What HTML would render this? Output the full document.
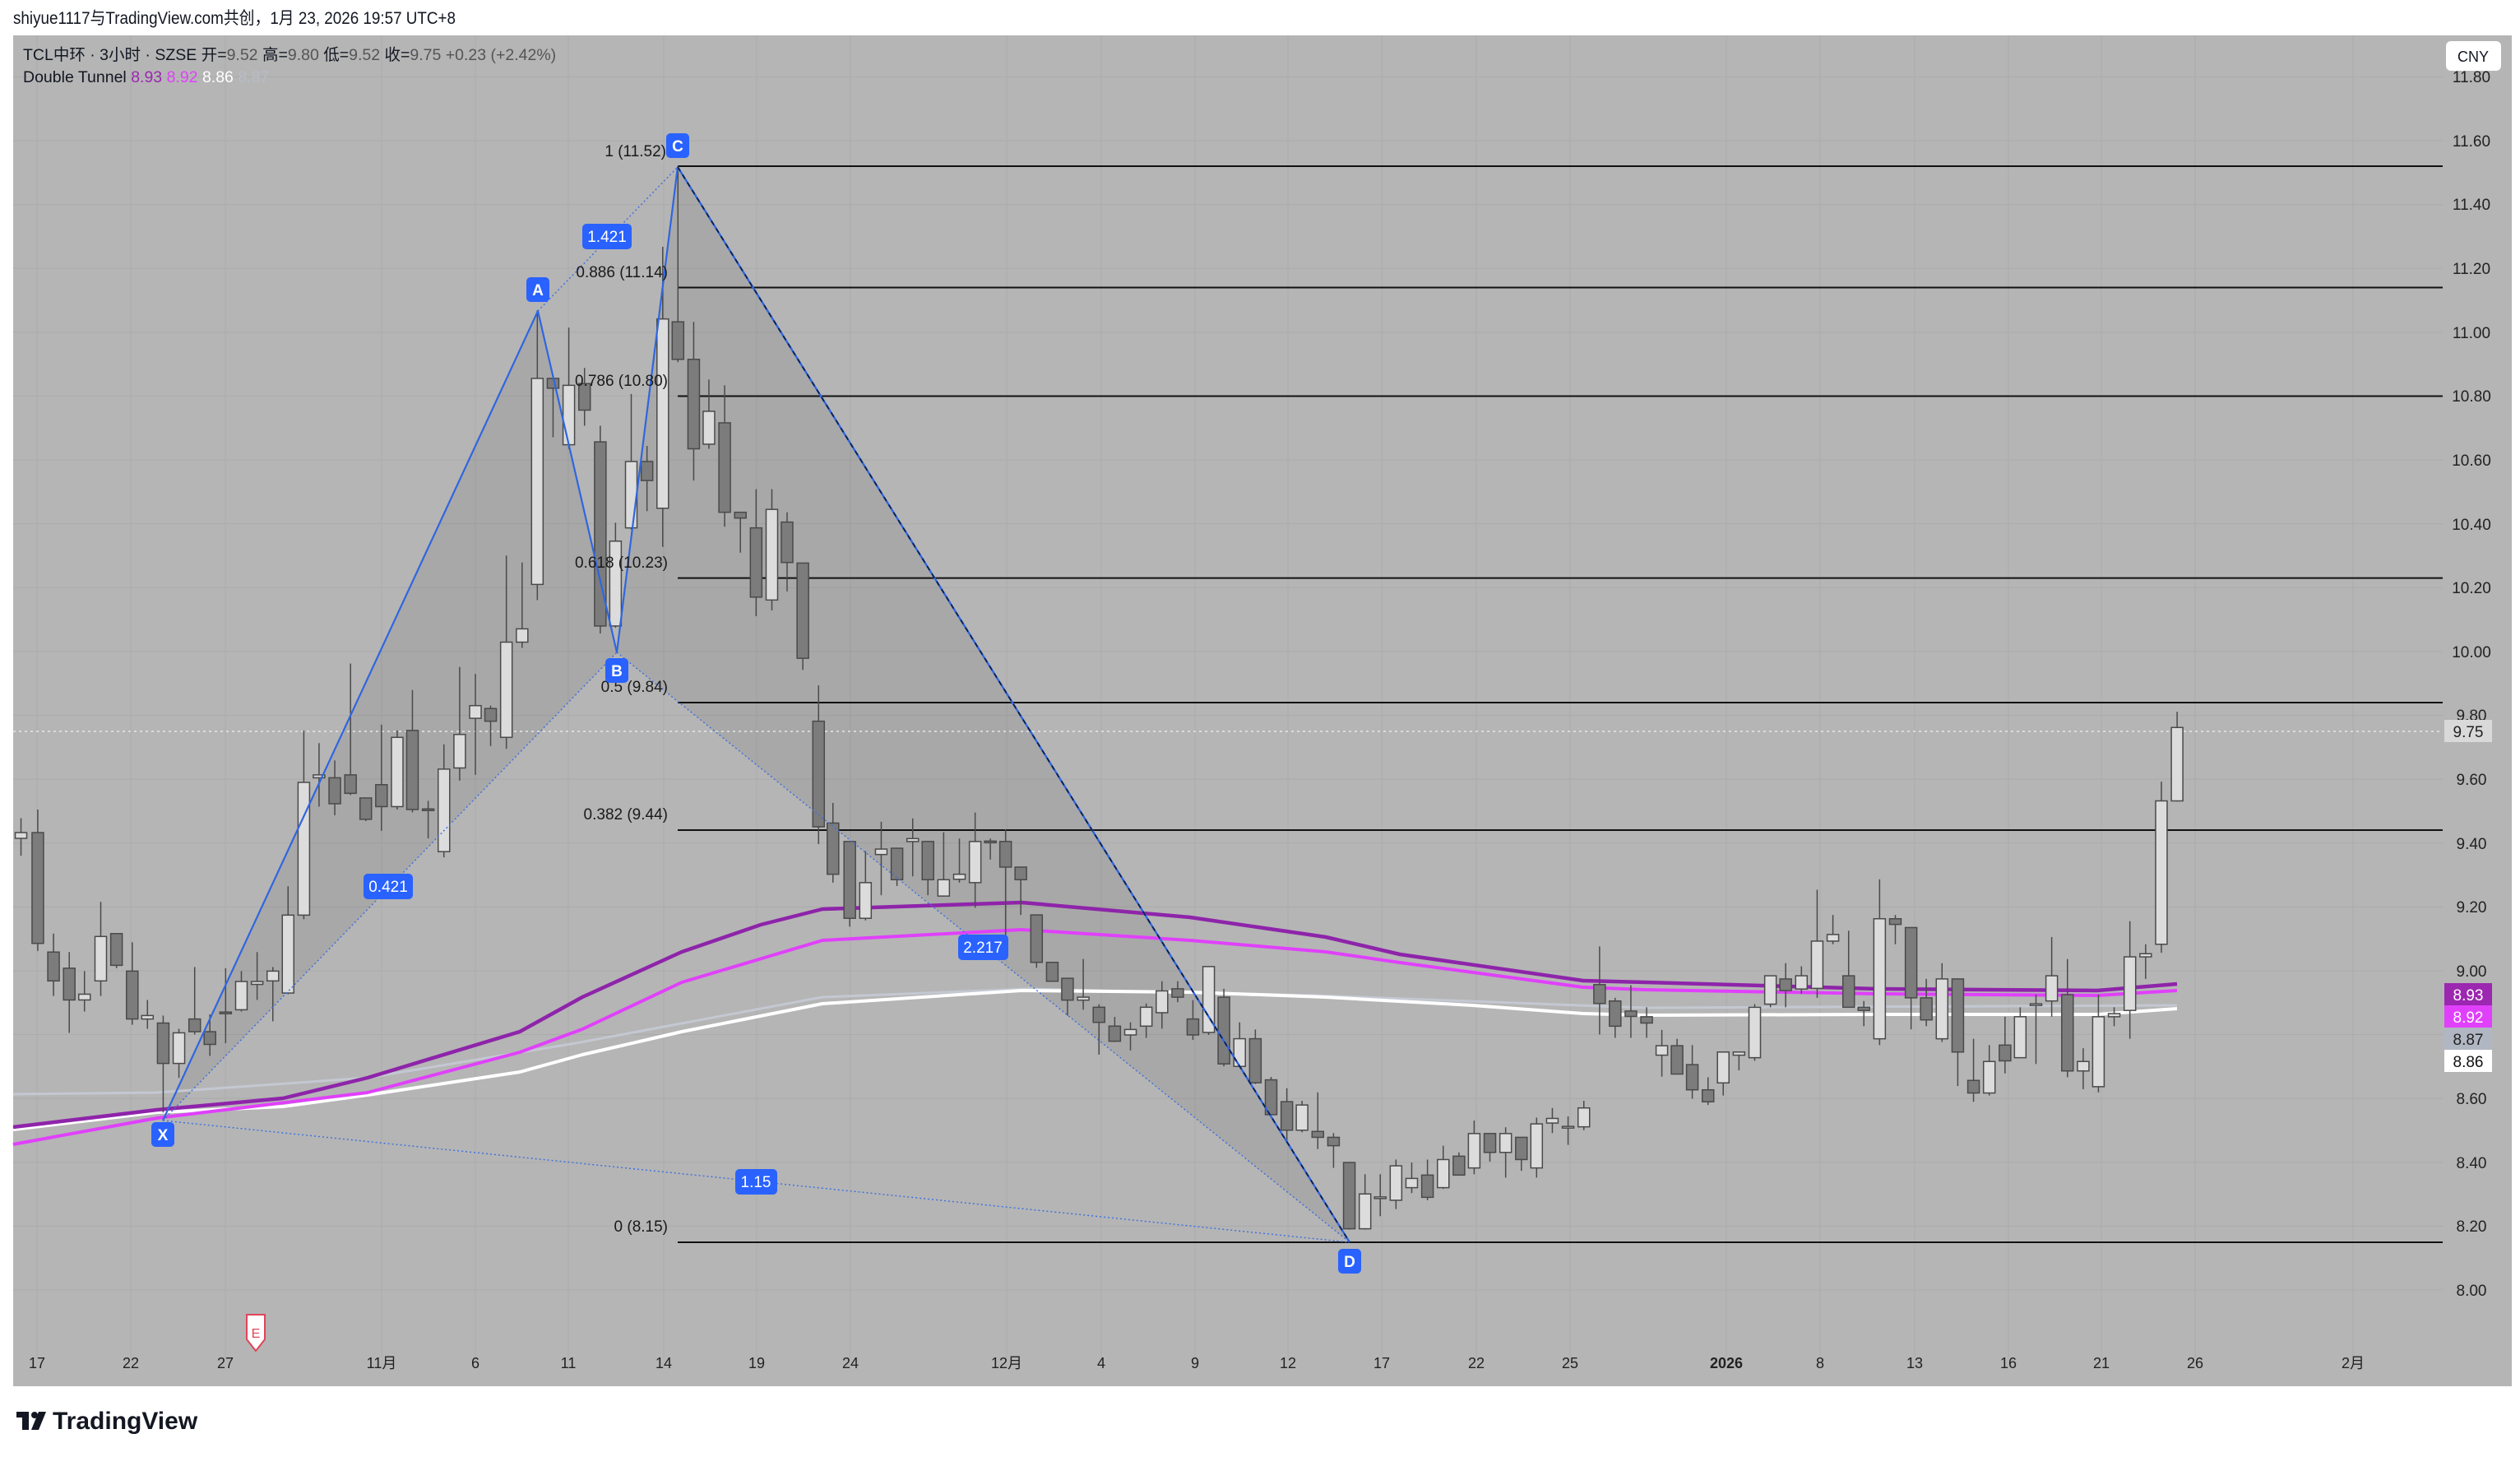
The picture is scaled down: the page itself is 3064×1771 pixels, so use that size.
<!DOCTYPE html>
<html><head><meta charset="utf-8"><style>
html,body{margin:0;padding:0;background:#fff;width:3064px;height:1771px;overflow:hidden}
svg{display:block}
text{font-family:"Liberation Sans","Noto Sans CJK SC",sans-serif}
</style></head><body>
<svg id="s" width="3064" height="1771" viewBox="0 0 3064 1771" xmlns="http://www.w3.org/2000/svg">
<rect x="0" y="0" width="3064" height="1771" fill="#ffffff"/>
<text x="16" y="29" font-size="21" fill="#131722" textLength="538" lengthAdjust="spacingAndGlyphs">shiyue1117与TradingView.com共创，1月 23, 2026 19:57 UTC+8</text>
<rect x="16" y="43" width="3038" height="1642" fill="#b5b5b5"/>
<g id="grid" stroke="#ababab" stroke-width="1"></g>
<g id="shade"></g>
<g id="fib" stroke="#111" stroke-width="2"></g>
<line x1="16" y1="889" x2="2970" y2="889" stroke="#e8e8e8" stroke-width="1.5" stroke-dasharray="3,4"/>
<g id="ma" fill="none"></g>
<g id="candles"></g>
<g id="pat"></g>
<g font-size="19" fill="#1a1a1a" text-anchor="end">
<text x="810" y="190">1 (11.52)</text>
<text x="812" y="337">0.886 (11.14)</text>
<text x="812" y="469">0.786 (10.80)</text>
<text x="812" y="690">0.618 (10.23)</text>
<text x="812" y="841">0.5 (9.84)</text>
<text x="812" y="996">0.382 (9.44)</text>
<text x="812" y="1497">0 (8.15)</text>
</g>
<g font-size="19" fill="#fff" text-anchor="middle" font-weight="bold">
<rect x="184" y="1364" width="28" height="30" rx="5" fill="#2962ff"/><text x="198" y="1386">X</text>
<rect x="640" y="337" width="28" height="30" rx="5" fill="#2962ff"/><text x="654" y="359">A</text>
<rect x="736" y="800" width="28" height="30" rx="5" fill="#2962ff"/><text x="750" y="822">B</text>
<rect x="810" y="162" width="28" height="30" rx="5" fill="#2962ff"/><text x="824" y="184">C</text>
<rect x="1627" y="1518" width="28" height="30" rx="5" fill="#2962ff"/><text x="1641" y="1540">D</text>
</g>
<g font-size="19" fill="#fff" text-anchor="middle">
<rect x="708" y="272" width="60" height="31" rx="5" fill="#2962ff"/><text x="738" y="294">1.421</text>
<rect x="442" y="1062" width="60" height="31" rx="5" fill="#2962ff"/><text x="472" y="1084">0.421</text>
<rect x="1165" y="1136" width="61" height="31" rx="5" fill="#2962ff"/><text x="1195" y="1158">2.217</text>
<rect x="894" y="1421" width="51" height="31" rx="5" fill="#2962ff"/><text x="919" y="1443">1.15</text>
</g>
<text x="28" y="73" font-size="19.5" fill="#131722">TCL中环 · 3小时 · SZSE  开=<tspan fill="#555">9.52</tspan>  高=<tspan fill="#555">9.80</tspan>  低=<tspan fill="#555">9.52</tspan>  收=<tspan fill="#555">9.75</tspan>  <tspan fill="#555">+0.23 (+2.42%)</tspan></text>
<text x="28" y="100" font-size="19.5" fill="#131722">Double Tunnel  <tspan fill="#9c27b0">8.93</tspan>  <tspan fill="#e040fb">8.92</tspan>  <tspan fill="#ffffff">8.86</tspan>  <tspan fill="#b8bcc6">8.87</tspan></text>
<g font-size="19" fill="#222" text-anchor="middle">
<text x="3005" y="100">11.80</text>
<text x="3005" y="178">11.60</text><text x="3005" y="255">11.40</text><text x="3005" y="333">11.20</text>
<text x="3005" y="411">11.00</text><text x="3005" y="488">10.80</text><text x="3005" y="566">10.60</text>
<text x="3005" y="644">10.40</text><text x="3005" y="721">10.20</text><text x="3005" y="799">10.00</text>
<text x="3005" y="876">9.80</text><text x="3005" y="954">9.60</text><text x="3005" y="1032">9.40</text>
<text x="3005" y="1109">9.20</text><text x="3005" y="1187">9.00</text><text x="3005" y="1342">8.60</text>
<text x="3005" y="1420">8.40</text><text x="3005" y="1497">8.20</text><text x="3005" y="1575">8.00</text>
</g>
<rect x="2974" y="50" width="67" height="36" rx="6" fill="#fff"/>
<text x="3007" y="75" font-size="18" fill="#131722" text-anchor="middle">CNY</text>
<g font-size="19" text-anchor="middle">
<rect x="2972" y="875" width="58" height="27" fill="#d9d9d9"/><text x="3001" y="896" fill="#222">9.75</text>
<rect x="2972" y="1195" width="58" height="27" fill="#9c27b0"/><text x="3001" y="1216" fill="#fff">8.93</text>
<rect x="2972" y="1222" width="58" height="27" fill="#e040fb"/><text x="3001" y="1243" fill="#fff">8.92</text>
<rect x="2972" y="1249" width="58" height="27" fill="#b0b6c2"/><text x="3001" y="1270" fill="#222">8.87</text>
<rect x="2972" y="1276" width="58" height="27" fill="#ffffff"/><text x="3001" y="1297" fill="#111">8.86</text>
</g>
<g font-size="18" fill="#222" text-anchor="middle">
<text x="45" y="1663">17</text><text x="159" y="1663">22</text><text x="274" y="1663">27</text>
<text x="464" y="1663">11月</text><text x="578" y="1663">6</text><text x="691" y="1663">11</text>
<text x="807" y="1663">14</text><text x="920" y="1663">19</text><text x="1034" y="1663">24</text>
<text x="1224" y="1663">12月</text><text x="1339" y="1663">4</text><text x="1453" y="1663">9</text>
<text x="1566" y="1663">12</text><text x="1680" y="1663">17</text><text x="1795" y="1663">22</text>
<text x="1909" y="1663">25</text><text x="2099" y="1663" font-weight="bold">2026</text><text x="2213" y="1663">8</text>
<text x="2328" y="1663">13</text><text x="2442" y="1663">16</text><text x="2555" y="1663">21</text>
<text x="2669" y="1663">26</text><text x="2861" y="1663">2月</text>
</g>
<path d="M300,1598 h22 v30 l-11,14 l-11,-14 z" fill="#fff" stroke="#e0455a" stroke-width="2"/>
<text x="311" y="1626" font-size="16" fill="#e0455a" text-anchor="middle">E</text>
<g>
<rect x="20" y="1716" width="15" height="7" fill="#131722"/><rect x="27" y="1716" width="8" height="22" fill="#131722"/>
<circle cx="42" cy="1720" r="4" fill="#131722"/><path d="M47,1716 h9 l-9,22 h-9 z" fill="#131722"/>
<text x="64" y="1737" font-size="30" font-weight="bold" fill="#131722">TradingView</text>
</g>
</svg>
<script>
var NS="http://www.w3.org/2000/svg";
function el(p,t,a){var e=document.createElementNS(NS,t);for(var k in a)e.setAttribute(k,a[k]);document.getElementById(p).appendChild(e);return e;}
var xs=[45,159,274,464,578,691,807,920,1034,1224,1339,1453,1566,1680,1795,1909,2099,2213,2328,2442,2555,2669,2861];
xs.forEach(function(x){el("grid","line",{x1:x,y1:43,x2:x,y2:1650});});
for(var p=8.0;p<=11.81;p+=0.2){var y=1568-(p-8)*388.06;el("grid","line",{x1:16,y1:y,x2:2970,y2:y});}
[202,349.5,481.5,702.6,854,1009,1510].forEach(function(y){el("fib","line",{x1:824,y1:y,x2:2970,y2:y});});
var X=[198,1362],A=[654,378],B=[750,793],C=[824,203],D=[1641,1510];
function pt(a){return a[0]+","+a[1];}
el("shade","polygon",{points:pt(X)+" "+pt(A)+" "+pt(B),fill:"#000","fill-opacity":"0.07"});
el("shade","polygon",{points:pt(B)+" "+pt(C)+" "+pt(D),fill:"#000","fill-opacity":"0.07"});
function ln(a,b,at){var o={x1:a[0],y1:a[1],x2:b[0],y2:b[1]};for(var k in at)o[k]=at[k];el("pat","line",o);}
ln(X,A,{stroke:"#2f66e0","stroke-width":2.2});
ln(A,B,{stroke:"#2f66e0","stroke-width":2.2});
ln(B,C,{stroke:"#2f66e0","stroke-width":2.2});
ln(C,D,{stroke:"#2f66e0","stroke-width":2.4});
ln(C,D,{stroke:"#0d1b3a","stroke-width":1.6,"stroke-dasharray":"6,5"});
var dot={stroke:"#3b6fe0","stroke-width":1.4,"stroke-dasharray":"2,3"};
ln(X,B,dot);ln(B,D,dot);ln(X,D,dot);ln(A,C,dot);
function path(pts,col,w){var d="M"+pts.map(function(q){return q[0]+","+q[1];}).join(" L");el("ma","path",{d:d,stroke:col,"stroke-width":w,"stroke-linejoin":"round"});}
path([[16,1330],[191,1328],[447,1310],[700,1268],[1000,1212],[1250,1202],[1600,1210],[2000,1225],[2647,1222]],"#c3c8d2",3);
path([[16,1373],[191,1352],[344,1345],[447,1331],[632,1303],[708,1282],[829,1254],[1000,1220],[1242,1204],[1447,1206],[1612,1212],[1790,1222],[1925,1232],[2000,1234],[2283,1233],[2550,1233],[2647,1226]],"#ffffff",4);
path([[16,1391],[191,1359],[447,1328],[632,1279],[708,1251],[829,1194],[980,1149],[1000,1143],[1242,1130],[1447,1143],[1612,1157],[1702,1170],[1925,1200],[2000,1203],[2283,1208],[2550,1210],[2647,1204]],"#e040fb",4);
path([[16,1370],[191,1349],[344,1335],[447,1310],[632,1254],[708,1212],[829,1157],[925,1124],[1000,1105],[1242,1097],[1447,1115],[1612,1139],[1702,1160],[1925,1192],[2000,1194],[2283,1202],[2550,1204],[2647,1196]],"#8e24aa",4.5);
var z4=[[40,1015,1025,990,1055,1],[72,1015,1207,975,1220,0],[102,1222,1272,1190,1298,0],[132,1250,1305,1222,1362,0],[161,1295,1305,1255,1325,1],[192,1195,1272,1135,1298,1],[222,1190,1245,1190,1250,0],[252,1255,1338,1205,1348,0],[281,1332,1338,1305,1355,1],[311,1345,1415,1332,1500,0],[341,1362,1415,1355,1440,1],[371,1338,1360,1248,1365,0],[400,1360,1382,1330,1402,0],[430,1326,1328,1250,1380,0],[460,1273,1322,1255,1325,1],[490,1273,1278,1222,1305,1],[520,1255,1272,1248,1342,1],[549,1158,1293,1108,1295,1],[579,928,1158,838,1165,1],[608,915,920,860,970,1],[638,920,965,890,985,0],[668,915,947,722,950,0],[697,955,992,955,995,0],[727,932,970,828,1012,0],[757,850,970,838,975,1],[786,838,975,768,980,0],[816,974,976,960,1025,0],[846,905,1048,862,1058,1],[876,845,903,728,925,1],[906,795,817,740,915,1],[935,800,822,795,865,0],[965,685,850,535,870,1],[995,662,685,547,695,1],[1024,228,585,110,612,1],[1054,228,245,228,330,0],[1084,240,343,140,350,1],[1114,237,283,210,310,0],[1144,338,657,310,670,0],[1173,510,657,478,660,1],[1203,372,487,255,490,1],[1233,372,405,345,458,0],[1263,125,453,0,520,1],[1292,130,195,-140,200,0],[1322,195,350,130,405,0],[1351,285,342,230,350,1],[1381,305,460,240,485,0],[1411,460,470,460,530,0],[1441,487,607,420,640,0],[1471,455,612,420,630,1],[1500,477,547,460,597,0],[1530,548,713,548,733,0],[1560,822,1005,760,1035,0]];
var z5=[[20,393,515,345,535,0],[52,437,620,437,640,0],[82,535,620,460,625,1],[112,455,468,390,565,1],[142,453,528,453,543,0],[172,430,437,382,520,1],[201,437,528,437,565,0],[231,528,567,415,567,1],[261,515,527,430,535,1],[291,437,535,368,595,1],[320,436,438,430,480,0],[349,437,498,408,705,0],[378,498,528,498,612,0],[408,612,725,612,738,0],[438,725,770,725,770,0],[467,763,815,763,852,0],[497,808,815,717,838,1],[527,832,868,825,945,0],[557,877,913,855,915,0],[587,885,898,868,935,1],[617,832,877,823,905,1],[647,793,845,770,883,1],[677,788,808,770,820,0],[706,860,898,815,910,0],[736,735,892,735,898,1],[765,808,967,788,973,0],[795,907,973,868,975,1],[825,907,1012,885,1015,0],[855,1005,1088,998,1090,0],[885,1057,1125,1025,1155,0],[914,1065,1125,1055,1130,1],[944,1128,1142,1035,1170,0],[974,1142,1162,1132,1215,0],[1004,1202,1360,1202,1362,0],[1034,1277,1360,1230,1362,1],[1063,1284,1286,1230,1330,1],[1093,1210,1292,1195,1313,1],[1123,1240,1262,1202,1275,1],[1153,1232,1285,1195,1292,0],[1183,1195,1262,1162,1265,1],[1213,1187,1232,1178,1232,0],[1242,1133,1215,1102,1230,1],[1272,1133,1178,1133,1200,0],[1302,1133,1178,1118,1238,1],[1332,1142,1195,1142,1222,0],[1361,1110,1215,1095,1238,1],[1391,1097,1108,1072,1132,1],[1421,1116,1118,1092,1160,1],[1451,1072,1117,1055,1125,1],[1481,778,823,687,897,0]];
var z6=[[100,1088,1168,1078,1205,0],[130,1120,1137,1038,1205,0],[160,1138,1158,1108,1205,0],[189,1230,1260,1180,1328,1],[218,1230,1320,1208,1320,0],[247,1290,1370,1228,1398,0],[277,1370,1408,1330,1418,0],[306,1250,1348,1250,1388,1],[336,1250,1260,1250,1308,1],[366,1108,1268,1098,1278,1],[396,1008,1098,1008,1108,1],[425,1018,1055,968,1108,0],[455,1008,1050,978,1065,1],[485,898,1048,735,1078,1],[515,877,898,815,908,1],[545,1008,1108,865,1108,0],[574,1108,1118,1088,1168,0],[604,827,1208,702,1228,1],[634,827,845,815,908,0],[664,855,1078,855,1178,0],[693,1078,1148,1018,1168,0],[723,1018,1208,968,1218,1],[753,1018,1250,1018,1358,0],[783,1340,1380,1208,1408,0],[813,1280,1380,1228,1388,1],[843,1228,1278,1138,1318,0],[872,1138,1268,1108,1268,1],[902,1097,1099,1068,1288,1],[932,1008,1088,885,1138,1],[962,1068,1310,955,1330,0],[992,1280,1310,1238,1368,1],[1021,1138,1360,1068,1378,1],[1051,1128,1138,1108,1168,1],[1081,948,1118,835,1208,1],[1111,938,948,908,1018,1],[1141,453,908,392,935,1],[1171,220,453,170,455,1]];
function draw(arr,ox,oy,sx,sy){arr.forEach(function(c){var x=ox+c[0]*sx;var bt=oy+c[1]*sy,bb=oy+c[2]*sy,wt=oy+c[3]*sy,wb=oy+c[4]*sy;
el("candles","line",{x1:x,y1:wt,x2:x,y2:wb,stroke:"#4a4a4a","stroke-width":1.5});
var h=Math.max(bb-bt,2);
el("candles","rect",{x:x-7,y:bt,width:14,height:h,fill:c[5]?"#dcdcdc":"#7c7c7c",stroke:"#4a4a4a","stroke-width":1.5});});}
draw(z4,0,300,0.638,0.7015);
draw(z5,1000,800,0.638,0.510);
draw(z6,1900,800,0.638,0.383);
</script>
</body></html>
